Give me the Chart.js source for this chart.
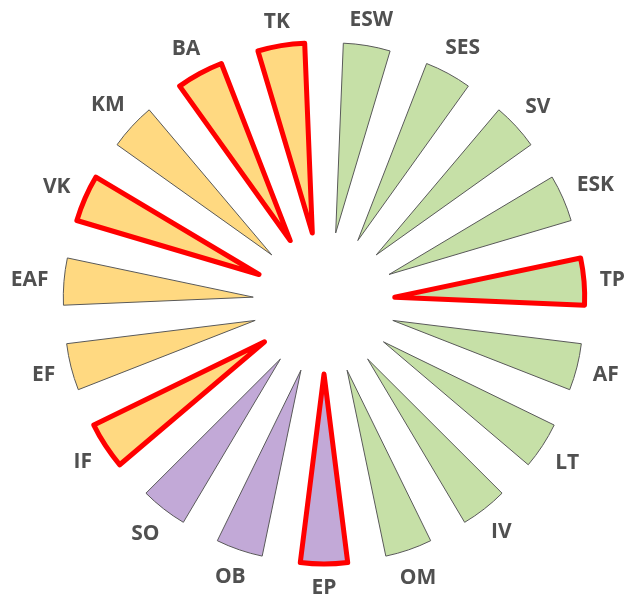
<!DOCTYPE html>
<html>
<head>
<meta charset="utf-8">
<script src="https://cdn.jsdelivr.net/npm/chart.js@4.4.1/dist/chart.umd.min.js"></script>
<style>
    html, body { margin: 0; padding: 0; background: #fff; }
    #wrap { width: 644px; height: 600px; }
</style>
</head>
<body>
<div id="wrap"><canvas id="wheelChart"></canvas></div>
<script>
// Segments, clockwise from 12 o'clock
const labels = ['ESW', 'SES', 'SV', 'ESK', 'TP', 'AF', 'LT', 'IV', 'OM', 'EP', 'OB', 'SO', 'IF', 'EF', 'EAF', 'VK', 'KM', 'BA', 'TK'];
// Every wedge has the same size
const values = [1, 1, 1, 1, 1, 1, 1, 1, 1, 1, 1, 1, 1, 1, 1, 1, 1, 1, 1];
// Colour group of each wedge (g = green, p = purple, o = orange)
const groups = ['g', 'g', 'g', 'g', 'g', 'g', 'g', 'g', 'g', 'p', 'p', 'p', 'o', 'o', 'o', 'o', 'o', 'o', 'o'];
// Wedges outlined in red
const highlighted = ['TP', 'EP', 'IF', 'VK', 'BA', 'TK'];

const groupColors = { g: '#C6E0A7', p: '#C2A9D7', o: '#FFD981' };

const isHighlighted = (i) => highlighted.includes(labels[i]);

// Draw the text labels outside each wedge, keeping the text box's
// nearest edge a fixed distance from the wheel centre
const wedgeLabels = {
    id: 'wedgeLabels',
    afterDatasetsDraw(chart) {
        const ctx = chart.ctx;
        const meta = chart.getDatasetMeta(0);
        ctx.save();
        ctx.font = 'bold 21px "Open Sans"';
        ctx.fillStyle = '#505050';
        ctx.textAlign = 'center';
        ctx.textBaseline = 'middle';
        meta.data.forEach((arc, i) => {
            const { x, y, startAngle, endAngle, outerRadius } =
                arc.getProps(['x', 'y', 'startAngle', 'endAngle', 'outerRadius'], true);
            const mid = (startAngle + endAngle) / 2;
            const halfW = ctx.measureText(labels[i]).width / 2;
            const halfH = 8;
            const r = outerRadius + 134 + Math.abs(Math.cos(mid)) * halfW + Math.abs(Math.sin(mid)) * halfH;
            ctx.fillText(labels[i], x + Math.cos(mid) * r, y + Math.sin(mid) * r + 1);
        });
        ctx.restore();
    }
};

const ctx = document.getElementById('wheelChart').getContext('2d');
const chart = new Chart(ctx, {
    type: 'doughnut',
    data: {
        labels: labels,
        datasets: [{
            data: values,
            backgroundColor: groups.map(g => groupColors[g]),
            borderColor: labels.map((l, i) => isHighlighted(i) ? '#FF0000' : '#595959'),
            borderWidth: labels.map((l, i) => isHighlighted(i) ? 5 : 1),
            borderJoinStyle: 'round',
            offset: 284,
            hoverOffset: 284
        }]
    },
    options: {
        responsive: true,
        maintainAspectRatio: false,
        animation: false,
        events: [],
        cutout: 0,
        radius: 142,
        layout: {
            padding: { left: 4, top: 6 }
        },
        plugins: {
            legend: { display: false },
            tooltip: { enabled: false }
        }
    },
    plugins: [wedgeLabels]
});
</script>
</body>
</html>
